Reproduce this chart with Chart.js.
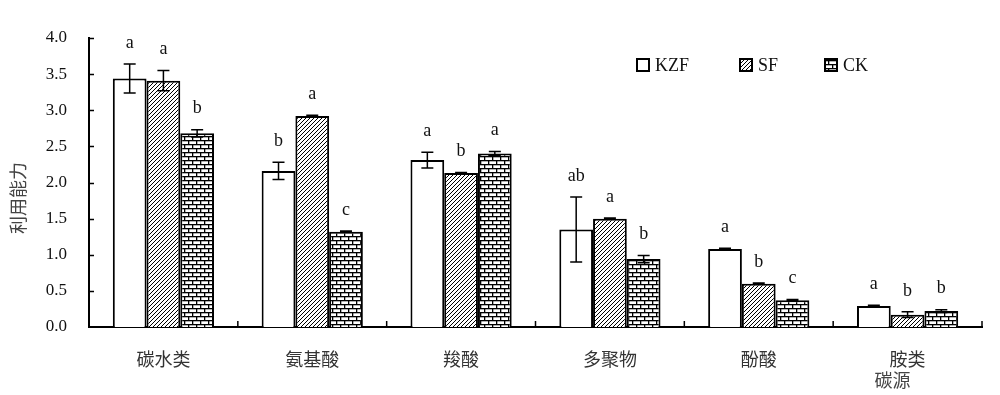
<!DOCTYPE html>
<html>
<head>
<meta charset="utf-8">
<script src="https://cdn.jsdelivr.net/npm/chart.js@4"></script>
<style>
  body { margin: 0; background: #fff; }
  #wrap { width: 1000px; height: 395px; }
</style>
</head>
<body>
<div id="wrap"><canvas id="chart" width="1000" height="395"></canvas></div>
<script>
const categories = ['碳水类', '氨基酸', '羧酸', '多聚物', '酚酸', '胺类'];
const seriesNames = ['KZF', 'SF', 'CK'];
const kzfValues = [3.44, 2.16, 2.31, 1.35, 1.08, 0.29];
const kzfErrors = [0.20, 0.12, 0.11, 0.45, 0.01, 0.01];
const sfValues = [3.41, 2.92, 2.13, 1.50, 0.60, 0.17];
const sfErrors = [0.14, 0.01, 0.01, 0.01, 0.01, 0.04];
const ckValues = [2.68, 1.32, 2.40, 0.94, 0.37, 0.22];
const ckErrors = [0.05, 0.01, 0.03, 0.05, 0.01, 0.02];
const kzfLetters = ['a', 'b', 'a', 'ab', 'a', 'a'];
const sfLetters = ['a', 'a', 'b', 'a', 'b', 'b'];
const ckLetters = ['b', 'c', 'a', 'b', 'c', 'b'];
const yTicks = [0, 0.5, 1.0, 1.5, 2.0, 2.5, 3.0, 3.5, 4.0];

const errors = [kzfErrors, sfErrors, ckErrors];
const letters = [kzfLetters, sfLetters, ckLetters];

// fill patterns
function makeHatch() {
    const c = document.createElement('canvas');
    c.width = 4; c.height = 4;
    const g = c.getContext('2d');
    g.fillStyle = '#fff'; g.fillRect(0, 0, 4, 4);
    g.strokeStyle = '#000'; g.lineWidth = 1;
    g.beginPath();
    g.moveTo(-1, 1); g.lineTo(1, -1);
    g.moveTo(0, 4); g.lineTo(4, 0);
    g.moveTo(3, 5); g.lineTo(5, 3);
    g.stroke();
    return g.createPattern(c, 'repeat');
}

function makeBrick() {
    const c = document.createElement('canvas');
    c.width = 8; c.height = 8;
    const g = c.getContext('2d');
    g.fillStyle = '#fff'; g.fillRect(0, 0, 8, 8);
    g.fillStyle = '#000';
    g.fillRect(0, 0, 8, 1.3);
    g.fillRect(0, 4, 8, 1.3);
    g.fillRect(0, 0, 1.3, 4);
    g.fillRect(4, 4, 1.3, 4);
    return g.createPattern(c, 'repeat');
}

const fills = ['#ffffff', makeHatch(), makeBrick()];

const serif = "'Liberation Serif', 'DejaVu Serif', serif";
const cjk = "'Noto Sans CJK SC', 'Noto Sans', sans-serif";

const extras = {
    id: 'extras',
    afterDatasetsDraw(chart) {
        const ctx = chart.ctx;
        const x = chart.scales.x, y = chart.scales.y;
        const area = chart.chartArea;
        ctx.save();

        // error bars + letters
        chart.data.datasets.forEach((ds, di) => {
            const meta = chart.getDatasetMeta(di);
            meta.data.forEach((bar, i) => {
                const v = ds.data[i], e = errors[di][i];
                const top = y.getPixelForValue(v + e);
                const bot = y.getPixelForValue(v - e);
                ctx.strokeStyle = '#000';
                ctx.lineWidth = 1.5;
                ctx.beginPath();
                ctx.moveTo(bar.x, top); ctx.lineTo(bar.x, bot);
                ctx.moveTo(bar.x - 6, top); ctx.lineTo(bar.x + 6, top);
                ctx.moveTo(bar.x - 6, bot); ctx.lineTo(bar.x + 6, bot);
                ctx.stroke();

                ctx.fillStyle = '#111';
                ctx.font = '18px ' + serif;
                ctx.textAlign = 'center';
                ctx.textBaseline = 'middle';
                ctx.fillText(letters[di][i], bar.x, top - 21);
            });
        });

        // inward tick marks
        ctx.strokeStyle = '#000';
        ctx.lineWidth = 1.5;
        ctx.beginPath();
        yTicks.forEach(t => {
            if (t === 0) return;
            const py = Math.round(y.getPixelForValue(t)) + 0.5;
            ctx.moveTo(area.left, py); ctx.lineTo(area.left + 5, py);
        });
        const step = (area.right - area.left) / categories.length;
        for (let i = 1; i <= categories.length; i++) {
            const px = area.left + step * i;
            ctx.moveTo(px, area.bottom); ctx.lineTo(px, area.bottom - 6);
        }
        ctx.stroke();

        // legend
        ctx.font = '18px ' + serif;
        ctx.textAlign = 'left';
        ctx.textBaseline = 'middle';
        const legendX = [637, 740, 825];
        const legendY = 65;
        chart.data.datasets.forEach((ds, di) => {
            const lx = legendX[di];
            ctx.fillStyle = ds.backgroundColor;
            ctx.fillRect(lx, legendY - 6, 12, 12);
            ctx.lineWidth = 2;
            ctx.strokeStyle = '#000';
            ctx.strokeRect(lx, legendY - 6, 12, 12);
            ctx.fillStyle = '#111';
            ctx.fillText(ds.label, lx + 18, legendY + 1);
        });

        // axis titles
        ctx.fillStyle = '#444';
        ctx.font = '18px ' + cjk;
        ctx.textAlign = 'center';
        ctx.fillText('碳源', x.getPixelForValue(categories.length - 1) - 15, 380);
        ctx.translate(18, 198);
        ctx.rotate(-Math.PI / 2);
        ctx.fillText('利用能力', 0, 0);
        ctx.restore();
    }
};

const valueSets = [kzfValues, sfValues, ckValues];

new Chart(document.getElementById('chart'), {
    type: 'bar',
    data: {
        labels: categories,
        datasets: seriesNames.map((name, i) => ({
            label: name,
            data: valueSets[i],
            backgroundColor: fills[i],
            borderColor: '#000',
            borderWidth: 2,
            borderSkipped: 'bottom',
            categoryPercentage: 0.68,
            barPercentage: 1.0
        }))
    },
    options: {
        responsive: false,
        animation: false,
        devicePixelRatio: 1,
        layout: { padding: { top: 38, right: 18, left: 0, bottom: 0 } },
        plugins: { legend: { display: false }, tooltip: { enabled: false } },
        scales: {
            x: {
                grid: { display: false },
                border: { display: true, color: '#000', width: 2 },
                ticks: {
                    color: '#333',
                    padding: 13,
                    font: { family: cjk, size: 18 }
                },
                afterFit(scale) { scale.height = 68; }
            },
            y: {
                min: 0,
                max: 4,
                grid: { display: false },
                border: { display: true, color: '#000', width: 2 },
                ticks: {
                    stepSize: 0.5,
                    color: '#111',
                    padding: 14,
                    font: { family: serif, size: 17 },
                    callback: v => v.toFixed(1)
                },
                afterFit(scale) { scale.width = 89; }
            }
        }
    },
    plugins: [extras]
});
</script>
</body>
</html>
